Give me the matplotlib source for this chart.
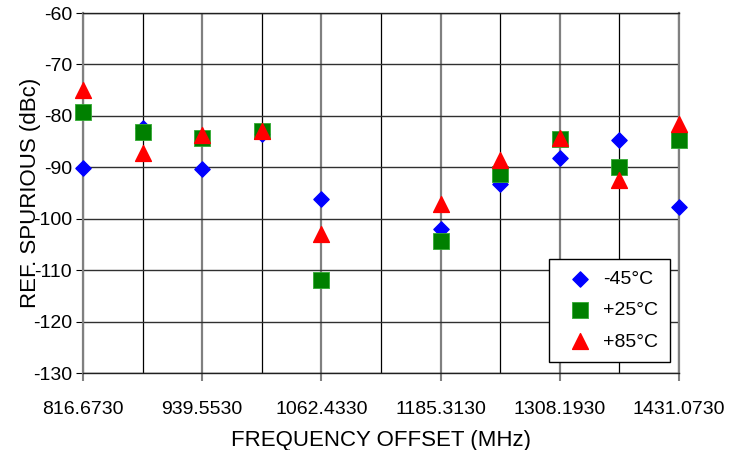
import matplotlib
matplotlib.use("Agg")
import matplotlib.pyplot as plt
import numpy as np

plt.rcParams['font.family'] = ['Liberation Sans', 'DejaVu Sans']
plt.rcParams['axes.unicode_minus'] = False

freq = [816.673, 878.113, 939.553, 1000.993, 1062.433,
        1185.313, 1246.753, 1308.193, 1369.633, 1431.073]
m45 = [-90.1, -82.4, -90.3, -83.6, -96.2, -101.9, -93.3, -88.1, -84.7, -97.8]
p25 = [-79.3, -83.2, -84.3, -83.0, -111.9, -104.4, -91.2, -84.4, -89.9, -84.7]
p85 = [-74.9, -87.2, -83.7, -82.9, -103.0, -97.1, -88.6, -84.3, -92.5, -81.5]

x_ticks = [816.673, 939.553, 1062.433, 1185.313, 1308.193, 1431.073]
x_minor = [878.113, 1000.993, 1123.873, 1246.753, 1369.633]

fig = plt.figure(figsize=(7.45, 4.5), dpi=100)
ax = fig.add_axes([0.1114, 0.171, 0.8, 0.80])

ax.scatter(freq, m45, marker='D', s=60, color='#0000ff', label='-45°C',
           zorder=3, clip_on=False)
ax.scatter(freq, p25, marker='s', s=140, color='#008000', edgecolors='#33aa33',
           linewidths=0.6, label='+25°C', zorder=4, clip_on=False)
ax.scatter(freq, p85, marker='^', s=130, color='#ff0000', label='+85°C',
           zorder=5, clip_on=False)

ax.set_xlim(816.673, 1431.073)
ax.set_ylim(-130, -60)
ax.set_yticks(np.arange(-130, -59, 10))
ax.set_xticks(x_ticks)
ax.set_xticklabels(['%.4f' % v for v in x_ticks])
ax.set_xticks(x_minor, minor=True)

ax.grid(True, which='major', axis='x', color='#808080', lw=1.6)
ax.grid(True, which='minor', axis='x', color='black', lw=0.9)
ax.grid(True, which='major', axis='y', color='#303030', lw=1.0)
ax.set_axisbelow(True)

ax.tick_params(axis='x', which='major', direction='out', length=6, color='#808080',
               width=1.5, labelsize=14, pad=14)
ax.tick_params(axis='x', which='minor', length=0)
ax.tick_params(axis='y', direction='out', length=5, labelsize=14, pad=3)

for s in ['left', 'right']:
    ax.spines[s].set_color('#808080')
    ax.spines[s].set_linewidth(1.6)
for s in ['top', 'bottom']:
    ax.spines[s].set_color('#202020')
    ax.spines[s].set_linewidth(1.0)

ax.set_xlabel('FREQUENCY OFFSET (MHz)', fontsize=16, labelpad=9)
ax.set_ylabel('REF. SPURIOUS (dBc)', fontsize=16, labelpad=-6)

leg = ax.legend(loc='lower right', bbox_to_anchor=(0.985, 0.03), fontsize=14,
                fancybox=False, edgecolor='black', framealpha=1, borderpad=0.6,
                labelspacing=0.7, handletextpad=0.2, borderaxespad=0)
leg.get_frame().set_linewidth(1.0)

fig.savefig('out.png', dpi=100)
